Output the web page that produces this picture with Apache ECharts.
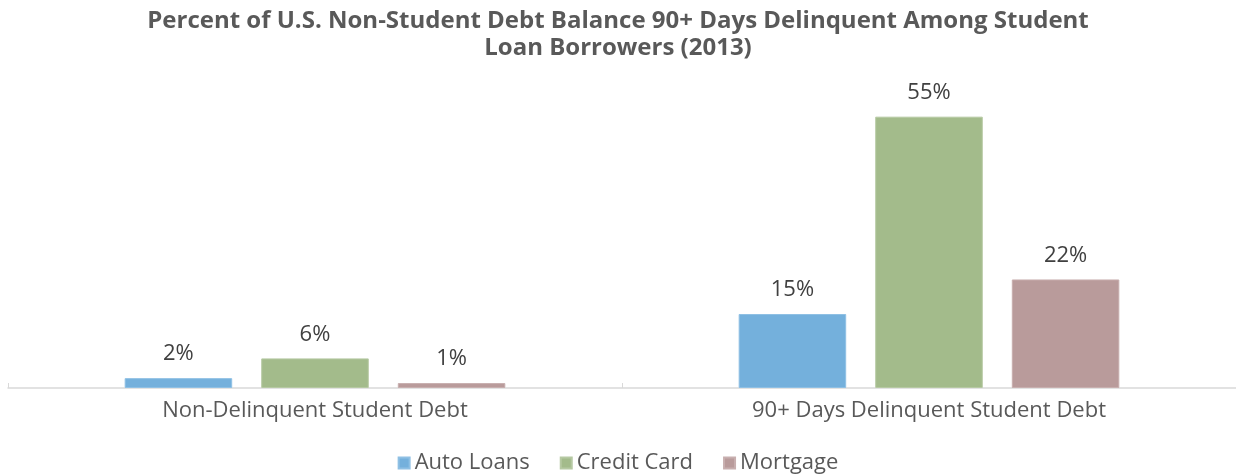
<!DOCTYPE html>
<html>
<head>
<meta charset="utf-8">
<script src="https://cdn.jsdelivr.net/npm/echarts@6/dist/echarts.min.js"></script>
<style>
  html, body { margin: 0; padding: 0; background: #fff; }
  #chart { width: 1236px; height: 475px; }
</style>
</head>
<body>
<div id="chart"></div>
<script>
// Delinquency of non-student debt among student loan borrowers, 2013
const categories = ['Non-Delinquent Student Debt', '90+ Days Delinquent Student Debt'];
const autoLoans = [2, 15];
const creditCard = [6, 55];
const mortgage = [1, 22];

const seriesNames = ['Auto Loans', 'Credit Card', 'Mortgage'];
const seriesData = [autoLoans, creditCard, mortgage];
const fills = ['#74b0dc', '#a3bb8b', '#b99b9b'];
const edges = ['#8fc0e4', '#b6c9a3', '#c8afaf'];

const chart = echarts.init(document.getElementById('chart'));

chart.setOption({
  animation: false,
  title: {
    text: 'Percent of U.S. Non-Student Debt Balance 90+ Days Delinquent Among Student\nLoan Borrowers (2013)',
    left: 'center',
    top: 3,
    textStyle: {
      fontFamily: 'Open Sans',
      fontWeight: 'bold',
      fontSize: 24,
      lineHeight: 27,
      color: '#595959'
    }
  },
  legend: {
    top: 447,
    left: 'center',
    itemWidth: 11,
    itemHeight: 11,
    itemGap: 30,
    icon: 'rect',
    textStyle: { fontFamily: 'Open Sans', fontSize: 22, color: '#595959', padding: [0, 0, 0, 0] },
    data: seriesNames
  },
  grid: { left: 8, right: 0, top: 92, bottom: 87, containLabel: false },
  xAxis: {
    type: 'category',
    data: categories,
    axisLine: { lineStyle: { color: '#d9d9d9', width: 1.5 } },
    axisTick: { show: true, inside: true, length: 5, lineStyle: { color: '#d9d9d9' } },
    axisLabel: { fontFamily: 'Open Sans', fontSize: 22, color: '#595959', margin: 12 }
  },
  yAxis: {
    type: 'value',
    min: 0,
    max: 60,
    show: false
  },
  series: seriesNames.map((name, i) => ({
    name,
    type: 'bar',
    data: seriesData[i],
    barGap: '27%',
    barCategoryGap: '38%',
    itemStyle: { color: fills[i], borderColor: edges[i], borderWidth: 1 },
    label: {
      show: true,
      position: 'top',
      distance: 13,
      formatter: '{c}%',
      fontFamily: 'Open Sans',
      fontSize: 22,
      color: '#404040'
    }
  }))
});
</script>
</body>
</html>
